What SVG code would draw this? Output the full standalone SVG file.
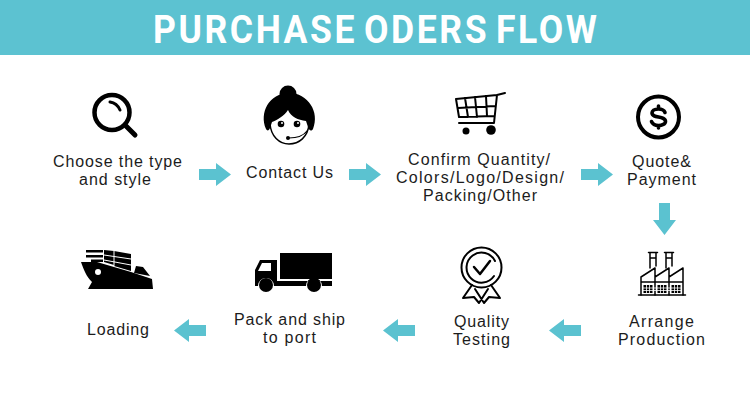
<svg xmlns="http://www.w3.org/2000/svg" width="750" height="400" viewBox="0 0 750 400">
<style>
text{font-family:"Liberation Sans",Arial,sans-serif;font-size:16px;fill:#1c1c1c;text-anchor:start}
.t{font-family:Roboto,"Liberation Sans",sans-serif;font-size:39.500px;font-weight:700;fill:#fff;word-spacing:-5px}
.s{fill:none;stroke:#000;stroke-linecap:round;stroke-linejoin:round}
.k{fill:#000}
.w{fill:#fff}
.a{fill:#5bc2d0}
</style>
<defs>
<path id="ar" d="M-16-5.500H1V-11.500L16 0 1 11.500V5.500H-16Z"/>
</defs>
<rect width="750" height="55" fill="#5cc2d1"/>
<text class="t" transform="translate(153 43) scale(.9 1)" textLength="493.300" lengthAdjust="spacing">PURCHASE ODERS FLOW</text>
<g id="connectors" class="a">
<use href="#ar" transform="translate(215 174.500)"/>
<use href="#ar" transform="translate(365 174.500)"/>
<use href="#ar" transform="translate(597 174.500)"/>
<use href="#ar" transform="translate(664.500 219) rotate(90)"/>
<use href="#ar" transform="translate(565 330.500) rotate(180)"/>
<use href="#ar" transform="translate(399 330.500) rotate(180)"/>
<use href="#ar" transform="translate(190 330.500) rotate(180)"/>
</g>
<g id="node-choose">
<circle class="s" cx="112" cy="112.500" r="17.500" stroke-width="4.500"/>
<path class="s" stroke-width="3" d="M110 102Q117 103 120 110"/>
<path class="s" stroke-width="5" d="M126 126L135 135"/>
<text><tspan x="53" y="167" textLength="129">Choose the type</tspan><tspan x="79" y="185" textLength="72">and style</tspan></text>
</g>
<g id="node-contact">
<circle class="k" cx="288" cy="94" r="8.500"/>
<path class="k" d="M266 129C259 113 269 93 289 93C308 93 320 112 313 129C311 132 309 130 308 127L306 121C298 120 291 117 288 110C284 116 277 120 272 122L270 128C269 131 267 131 266 129Z"/>
<path class="s" stroke-width="1.500" d="M270 124C271 136 279 144 289 144C299 144 308 137 309 124"/>
<circle class="k" cx="281" cy="124" r="3.300"/><circle class="k" cx="297" cy="124" r="3.300"/>
<circle class="w" cx="282" cy="123" r="1"/><circle class="w" cx="298" cy="123" r="1"/>
<path class="s" stroke-width="1.200" d="M289 138C297 138 304 135 307 131"/>
<circle class="k" cx="288" cy="138" r="2"/>
<text x="246" y="178" textLength="87">Contact Us</text>
</g>
<g id="node-cart">
<path class="s" stroke-width="2" d="M505 93L497 95L494 123H459M456 99L497 95M458 108L495 106M459 117L494 116M465 98L468 117M475 97L477 117M486 96L487 116M456 99L459 117"/>
<circle class="k" cx="466" cy="131" r="3.500"/><circle class="k" cx="491" cy="130" r="4.800"/>
<text><tspan x="408" y="165" textLength="142">Confirm Quantity/</tspan><tspan x="396" y="183" textLength="168">Colors/Logo/Design/</tspan><tspan x="423" y="201" textLength="114">Packing/Other</tspan></text>
</g>
<g id="node-quote">
<circle class="s" cx="658.500" cy="117" r="20.500" stroke-width="4"/>
<path class="s" stroke-width="3.600" d="M665 112.500C664 110 662 109 658.500 109C654 109 652 111 652 113C652 118.500 665.500 115.500 665.500 121.500C665.500 124 662 125.500 658.500 125.500C655 125.500 652.500 124 651.500 121.500M658.500 106V108M658.500 126V128"/>
<text><tspan x="632" y="167" textLength="59">Quote&amp;</tspan><tspan x="627" y="185" textLength="69">Payment</tspan></text>
</g>
<g id="node-arrange">
<path class="s" stroke-width="1.500" d="M638.500 295H685.500M650 268V252.500M656 266V252.500M666 268V252.500M672 266V252.500M648.500 252.500H657.500M664.500 252.500H673.500M650 258H656M666 258H672"/>
<path class="s" stroke-width="1.500" d="M641 295V277L655 268V295M655 277L669 268V295M669 277L683 268V295M641 282H683"/>
<path class="k" d="M643.500 285H652.500V293H643.500ZM657.500 285H666.500V293H657.500ZM671.500 285H680.500V293H671.500Z"/>
<path stroke="#fff" stroke-width=".8" d="M643 288H681M643 290.500H681M646.500 285V293M649.500 285V293M660.500 285V293M663.500 285V293M674.500 285V293M677.500 285V293"/>
<text><tspan x="629" y="326.500" textLength="65">Arrange</tspan><tspan x="618" y="344.500" textLength="87">Production</tspan></text>
</g>
<g id="node-quality">
<circle class="s" cx="481.500" cy="267.500" r="20" stroke-width="2"/>
<path class="s" stroke-width="2" d="M495 261A15 15 0 1 0 494 276"/>
<path class="s" stroke-width="2.500" d="M474 267L480 274L490 261"/>
<path class="s" stroke-width="2" d="M472 285L463 298L474 297L479 303L488 289M491 285L500 298L489 297L484 303L475 289"/>
<text><tspan x="454" y="326.500" textLength="55">Quality</tspan><tspan x="453" y="344.500" textLength="57">Testing</tspan></text>
</g>
<g id="node-pack">
<rect class="k" x="280" y="253" width="52" height="26"/>
<path class="k" d="M255 286V270L260 260H277V281H332V286H322A8 8 0 0 0 306 286H274A8 8 0 0 0 258 286Z"/>
<path class="w" d="M258 271L262 263H271V271Z"/>
<circle class="k" cx="266" cy="285" r="7"/><circle class="k" cx="314" cy="285" r="7"/>
<text><tspan x="234" y="325" textLength="111">Pack and ship</tspan><tspan x="263" y="343" textLength="53">to port</tspan></text>
</g>
<g id="node-loading">
<path class="k" d="M81 262H97L131 272L152 279L153 289H88L92 282C86 276 84 270 81 262Z"/>
<path class="k" d="M134 273L136 266L143 267L150 276ZM86 250H103V252.500H86ZM86 255H103V257.500H86ZM91 259.500H103V262H91ZM104 250L114 251V265L104 262ZM114 251L131 254V271L114 266Z"/>
<path stroke="#fff" stroke-width="1" d="M104 255L131 259M104 260L131 265M114 251V266"/>
<circle class="w" cx="98" cy="272" r="3"/>
<text x="87" y="335" textLength="62">Loading</text>
</g>
</svg>
